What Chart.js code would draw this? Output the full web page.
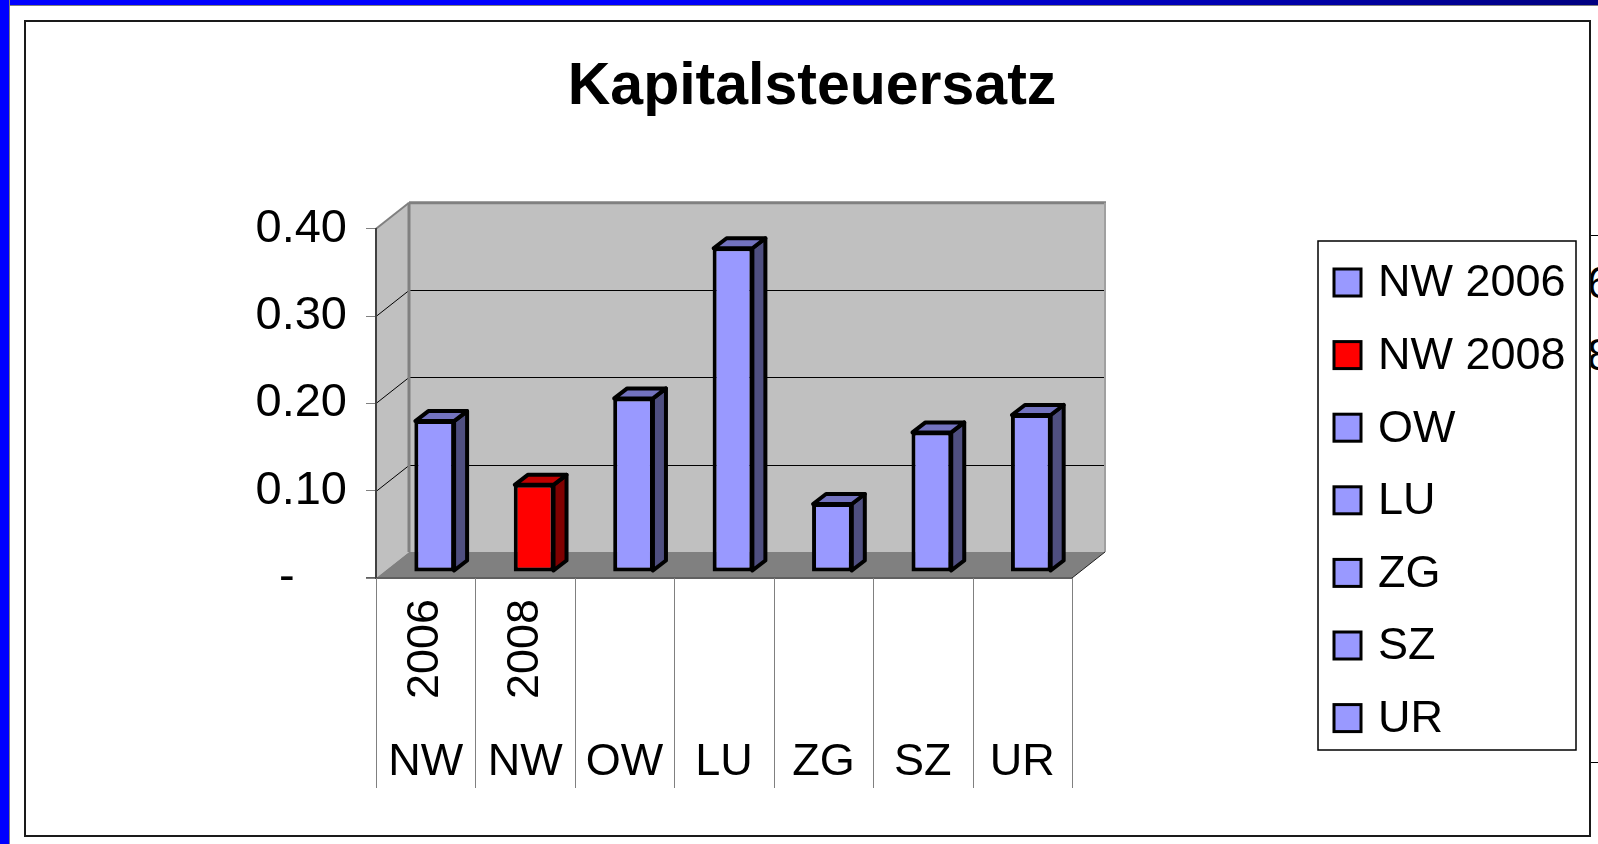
<!DOCTYPE html>
<html>
<head>
<meta charset="utf-8">
<script src="https://cdn.jsdelivr.net/npm/chart.js@4"></script>
<style>
  html, body { margin: 0; padding: 0; background: #fff; }
  body { width: 1598px; height: 844px; position: relative; overflow: hidden; font-family: "Liberation Sans", Arial, sans-serif; }
  #topBar { position: absolute; left: 0; top: 0; width: 1598px; height: 5px; background: linear-gradient(to right, #0000ff 0%, #0000ff 40%, #000080 100%); border-bottom: 1px solid #808080; }
  #leftBar { position: absolute; left: 0; top: 0; width: 9px; height: 844px; background: #0000ff; border-right: 1px solid #808080; }
  #frame { position: absolute; left: 24px; top: 20px; width: 1567px; height: 817px; box-sizing: border-box; border: 2px solid #1a1a1a; }
  #neighbor { position: absolute; left: 1591px; top: 235px; width: 7px; height: 528px; box-sizing: border-box; border-top: 1px solid #000; border-bottom: 1px solid #000; overflow: hidden; }
  #neighbor span { position: absolute; left: -4px; font-size: 45px; line-height: 45px; color: #000; }
  canvas { position: absolute; left: 0; top: 0; }
</style>
</head>
<body>
<div id="topBar"></div>
<div id="leftBar"></div>
<div id="frame"></div>
<div id="neighbor"><span style="top:24px">6</span><span style="top:96px">8</span></div>
<canvas id="myChart" width="1598" height="844"></canvas>
<script>
const regions = ['NW', 'NW', 'OW', 'LU', 'ZG', 'SZ', 'UR'];
const years = ['2006', '2008', '', '', '', '', ''];
const rates = [0.174, 0.101, 0.200, 0.372, 0.079, 0.161, 0.181];
const yTicks = [0, 0.1, 0.2, 0.3, 0.4];

// styles
const faceColors = ['#9999ff', '#ff0000', '#9999ff', '#9999ff', '#9999ff', '#9999ff', '#9999ff'];
const sideColors = ['#4f4f80', '#800000', '#4f4f80', '#4f4f80', '#4f4f80', '#4f4f80', '#4f4f80'];
const topColors = ['#7373bf', '#c00000', '#7373bf', '#7373bf', '#7373bf', '#7373bf', '#7373bf'];

const legendLabels = regions.map((r, i) => years[i] ? r + ' ' + years[i] : r);

Chart.defaults.font.family = '"Liberation Sans", Arial, sans-serif';

// depth of the plot box and of the bars
const wallDx = 33, wallDy = -26;
const barShiftX = 9, barShiftY = -6;
const barDx = 13, barDy = -10;

function poly(ctx, pts, fill, stroke, lw) {
  ctx.beginPath();
  ctx.moveTo(pts[0][0], pts[0][1]);
  for (let i = 1; i < pts.length; i++) ctx.lineTo(pts[i][0], pts[i][1]);
  ctx.closePath();
  if (fill) { ctx.fillStyle = fill; ctx.fill(); }
  if (stroke) { ctx.strokeStyle = stroke; ctx.lineWidth = lw; ctx.stroke(); }
}

function line(ctx, x1, y1, x2, y2, color, lw) {
  ctx.beginPath();
  ctx.moveTo(x1, y1);
  ctx.lineTo(x2, y2);
  ctx.strokeStyle = color;
  ctx.lineWidth = lw;
  ctx.stroke();
}

const box3d = {
  id: 'box3d',
  beforeDraw(chart) {
    const ctx = chart.ctx;
    const {left, right, top, bottom} = chart.chartArea;
    const y = chart.scales.y;
    ctx.save();
    // back wall, side wall, floor
    poly(ctx, [[left + wallDx, top + wallDy], [right + wallDx, top + wallDy], [right + wallDx, bottom + wallDy], [left + wallDx, bottom + wallDy]], '#c0c0c0');
    poly(ctx, [[left, top], [left + wallDx, top + wallDy], [left + wallDx, bottom + wallDy], [left, bottom]], '#c0c0c0');
    poly(ctx, [[left, bottom], [left + wallDx, bottom + wallDy], [right + wallDx, bottom + wallDy], [right, bottom]], '#808080');
    // grid lines on the walls
    yTicks.forEach(v => {
      if (v === 0 || v === 0.4) return;
      const py = Math.round(y.getPixelForValue(v)) + 0.5;
      line(ctx, left + wallDx, py + wallDy, right + wallDx, py + wallDy, '#000', 1);
      line(ctx, left, py, left + wallDx, py + wallDy, '#000', 1);
    });
    // wall edges
    line(ctx, left + wallDx, top + wallDy, right + wallDx + 1, top + wallDy, '#808080', 3);
    line(ctx, left + wallDx, top + wallDy, left + wallDx, bottom + wallDy, '#808080', 3);
    line(ctx, right + wallDx, top + wallDy, right + wallDx, bottom + wallDy, '#a0a0a0', 2);
    line(ctx, left, top, left + wallDx, top + wallDy, '#808080', 2);
    line(ctx, right, bottom, right + wallDx, bottom + wallDy, '#202020', 1);
    line(ctx, left - 10, bottom, right, bottom, '#606060', 2);
    ctx.restore();
  },
  beforeDatasetsDraw(chart) {
    const ctx = chart.ctx;
    const meta = chart.getDatasetMeta(0);
    ctx.save();
    ctx.translate(barShiftX, barShiftY);
    ctx.lineJoin = 'round';
    meta.data.forEach((el, i) => {
      const p = el.getProps(['x', 'y', 'base', 'width'], true);
      const l = p.x - p.width / 2 + 1, r = p.x + p.width / 2 - 1;
      const t = p.y + 1, b = p.base - 1;
      poly(ctx, [[r, t], [r + barDx, t + barDy], [r + barDx, b + barDy], [r, b]], sideColors[i], '#000', 4);
      poly(ctx, [[l, t], [l + barDx, t + barDy], [r + barDx, t + barDy], [r, t]], topColors[i], '#000', 4);
    });
  },
  afterDatasetsDraw(chart) {
    chart.ctx.restore();
  }
};

const xLabels = {
  id: 'xLabels',
  afterDraw(chart) {
    const ctx = chart.ctx;
    const {left, right, bottom} = chart.chartArea;
    const x = chart.scales.x;
    const step = (right - left) / regions.length;
    ctx.save();
    for (let i = 0; i <= regions.length; i++) {
      const px = Math.round(left + i * step) + 0.5;
      line(ctx, px, bottom, px, 788, '#808080', 1);
    }
    ctx.fillStyle = '#000';
    ctx.font = '45px "Liberation Sans", Arial, sans-serif';
    ctx.textAlign = 'center';
    ctx.textBaseline = 'middle';
    regions.forEach((r, i) => {
      const cx = x.getPixelForValue(i);
      ctx.fillText(r, cx, 763);
      if (years[i]) {
        ctx.save();
        ctx.translate(cx - 2, 649);
        ctx.rotate(-Math.PI / 2);
        ctx.fillText(years[i], 0, 2);
        ctx.restore();
      }
    });
    ctx.restore();
  }
};

const boxLegend = {
  id: 'boxLegend',
  afterDraw(chart) {
    const ctx = chart.ctx;
    const bx = 1318, by = 241, bw = 258, bh = 509;
    ctx.save();
    ctx.fillStyle = '#fff';
    ctx.fillRect(bx, by, bw, bh);
    ctx.strokeStyle = '#000';
    ctx.lineWidth = 1.5;
    ctx.strokeRect(bx, by, bw, bh);
    ctx.font = '45px "Liberation Sans", Arial, sans-serif';
    ctx.textAlign = 'left';
    ctx.textBaseline = 'middle';
    legendLabels.forEach((lab, i) => {
      const cy = by + 41 + i * 72.6;
      ctx.fillStyle = faceColors[i];
      ctx.fillRect(bx + 16, cy - 13, 27, 27);
      ctx.lineWidth = 3;
      ctx.strokeStyle = '#000';
      ctx.strokeRect(bx + 16, cy - 13, 27, 27);
      ctx.fillStyle = '#000';
      ctx.fillText(lab, bx + 60, cy + 2);
    });
    ctx.restore();
  }
};

const ctx = document.getElementById('myChart').getContext('2d');
const myChart = new Chart(ctx, {
  type: 'bar',
  data: {
    labels: legendLabels,
    datasets: [{
      data: rates,
      backgroundColor: faceColors,
      borderColor: '#000',
      borderWidth: 4,
      borderSkipped: false,
      barPercentage: 0.41,
      categoryPercentage: 1,
      clip: false
    }]
  },
  options: {
    responsive: false,
    animation: false,
    layout: {
      padding: { left: 26, right: 0, top: 0, bottom: 266 }
    },
    plugins: {
      legend: { display: false },
      tooltip: { enabled: false },
      title: {
        display: true,
        text: 'Kapitalsteuersatz',
        color: '#000',
        font: { size: 59, weight: 'bold' },
        padding: { top: 52, bottom: 106 }
      }
    },
    scales: {
      x: { display: false },
      y: {
        min: 0,
        max: 0.4,
        ticks: {
          stepSize: 0.1,
          color: '#000',
          padding: 19,
          font: { size: 47 },
          callback: v => v === 0 ? '-    ' : v.toFixed(2)
        },
        grid: { drawOnChartArea: false, drawTicks: true, tickLength: 10, color: '#808080' },
        border: { color: '#404040', width: 2 },
        afterFit: s => { s.width = 350; }
      },
      pad: {
        type: 'linear',
        position: 'right',
        display: true,
        ticks: { display: false },
        grid: { display: false },
        border: { display: false },
        afterFit: s => { s.width = 526; }
      }
    }
  },
  plugins: [box3d, xLabels, boxLegend]
});
</script>
</body>
</html>
